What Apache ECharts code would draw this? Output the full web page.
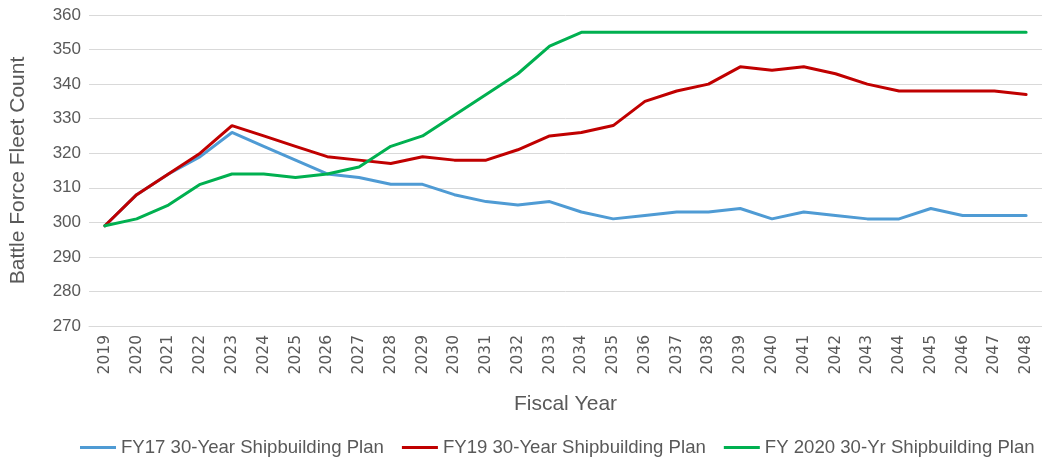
<!DOCTYPE html>
<html><head><meta charset="utf-8">
<script src="https://cdn.jsdelivr.net/npm/echarts@6/dist/echarts.min.js"></script>
<style>html,body{margin:0;padding:0;background:#fff}#c{width:1042px;height:462px}</style>
</head><body><div id="c"></div>
<script>
const years = ['2019','2020','2021','2022','2023','2024','2025','2026','2027','2028','2029','2030','2031','2032','2033','2034','2035','2036','2037','2038','2039','2040','2041','2042','2043','2044','2045','2046','2047','2048'];
const fy17 = [299,308,314,319,326,322,318,314,313,311,311,308,306,305,306,303,301,302,303,303,304,301,303,302,301,301,304,302,302,302];
const fy19 = [299,308,314,320,328,325,322,319,318,317,319,318,318,321,325,326,328,335,338,340,345,344,345,343,340,338,338,338,338,337];
const fy20 = [299,301,305,311,314,314,313,314,316,322,325,331,337,343,351,355,355,355,355,355,355,355,355,355,355,355,355,355,355,355];
const names = ['FY17 30-Year Shipbuilding Plan','FY19 30-Year Shipbuilding Plan','FY 2020 30-Yr Shipbuilding Plan'];
const colors = ['#4F9BD4','#C00000','#00B050'];
const font = 'Liberation Sans, sans-serif';
const chart = echarts.init(document.getElementById('c'));
const mk = (n, d, c) => ({name:n, type:'line', data:d, symbol:'none', smooth:false, lineStyle:{width:3, color:c, cap:'round'}, itemStyle:{color:c}});
chart.setOption({
  animation:false,
  grid:{left:87, width:961, top:15, bottom:136},
  legend:{bottom:5, left:80, width:990, padding:0, itemWidth:36, itemHeight:3, itemGap:18, icon:'rect',
    textStyle:{fontFamily:font, fontSize:18.6, color:'#595959'}, data:names},
  xAxis:{type:'category', data:years, boundaryGap:true,
    name:'Fiscal Year', nameLocation:'middle', nameGap:68,
    nameTextStyle:{fontFamily:font, fontSize:21, color:'#595959'},
    axisLine:{lineStyle:{color:'#d9d9d9'}}, axisTick:{show:false},
    axisLabel:{rotate:90, fontFamily:'DejaVu Sans', fontSize:15.5, color:'#595959', margin:9}},
  yAxis:{type:'value', min:270, max:360, interval:10,
    name:'Battle Force Fleet Count', nameLocation:'middle', nameGap:60,
    nameTextStyle:{fontFamily:font, fontSize:21, color:'#595959'},
    axisLine:{show:false}, axisTick:{show:false},
    splitLine:{lineStyle:{color:'#d9d9d9', width:1}},
    axisLabel:{fontFamily:font, fontSize:17, color:'#595959', margin:8}},
  series:[mk(names[0],fy17,colors[0]), mk(names[1],fy19,colors[1]), mk(names[2],fy20,colors[2])]
});
</script></body></html>
